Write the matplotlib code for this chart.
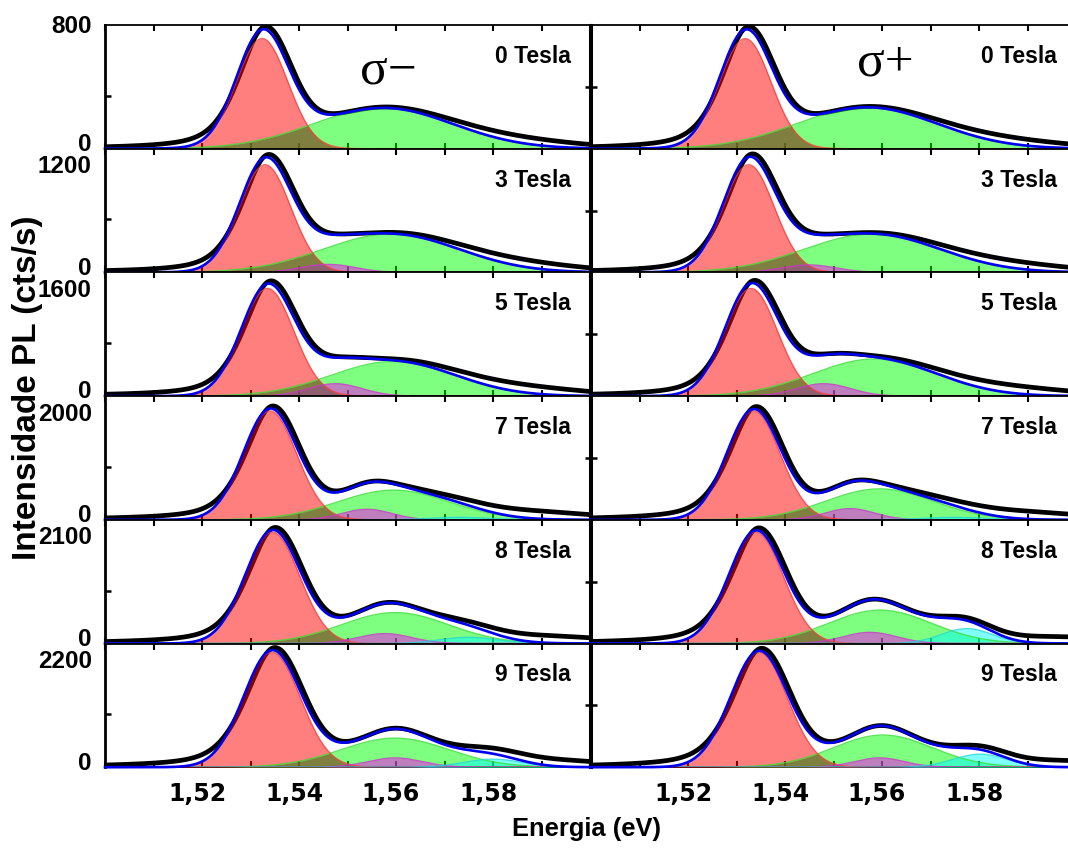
import numpy as np
import matplotlib
matplotlib.use("Agg")
import matplotlib.pyplot as plt
from matplotlib.ticker import FixedLocator, MultipleLocator
from matplotlib.transforms import ScaledTranslation

# ---------------------------------------------------------------- data
FIELDS_T = [0, 3, 5, 7, 8, 9]
Y_TOP_LABELS = [800, 1200, 1600, 2000, 2100, 2200]
YMAX_MINUS = [939, 1403, 1871, 2339, 2456, 2573]
YMAX_PLUS = [800, 1200, 1600, 2000, 2100, 2200]
XTICKS = [1.52, 1.54, 1.56, 1.58]
XTICKLABELS_MINUS = ["1,52", "1,54", "1,56", "1,58"]
XTICKLABELS_PLUS = ["1,52", "1,54", "1,56", "1.58"]

# Gaussian fit components: centre (eV), FWHM (eV), height (cts/s)
# sigma-minus
RED_C_M = [1.5324, 1.5330, 1.5335, 1.5340, 1.5345, 1.5344]
RED_H_M = [836, 1221, 1628, 2058, 2210, 2393]
GRN_C_M = [1.5573, 1.5590, 1.5595, 1.5595, 1.5598, 1.5598]
GRN_W_M = [0.034, 0.033, 0.030, 0.027, 0.026, 0.026]
GRN_H_M = [310, 435, 524, 561, 614, 605]
MAG_C_M = [1.545, 1.546, 1.5475, 1.554, 1.5577, 1.5598]
MAG_W_M = [0.013, 0.013, 0.013, 0.012, 0.013, 0.013]
MAG_H_M = [0, 91, 187, 199, 196, 193]
CYN_C_M = [1.575, 1.575, 1.575, 1.573, 1.575, 1.580]
CYN_W_M = [0.014, 0.014, 0.014, 0.015, 0.014, 0.014]
CYN_H_M = [0, 0, 0, 47, 123, 167]
# measured high-energy shoulder not covered by the fit
TAIL_C_M = [1.585, 1.585, 1.585, 1.587, 1.590, 1.590]
TAIL_H_M = [52, 84, 122, 152, 147, 154]

# sigma-plus
RED_C_P = [1.5318, 1.5325, 1.5330, 1.5335, 1.5340, 1.5346]
RED_H_P = [712, 1044, 1392, 1760, 1890, 2046]
GRN_C_P = [1.5569, 1.5580, 1.5585, 1.5595, 1.5596, 1.5602]
GRN_W_P = [0.034, 0.033, 0.030, 0.026, 0.025, 0.024]
GRN_H_P = [268, 372, 480, 500, 567, 572]
MAG_C_P = [1.545, 1.545, 1.548, 1.5534, 1.5575, 1.5595]
MAG_W_P = [0.013, 0.013, 0.013, 0.012, 0.013, 0.012]
MAG_H_P = [0, 72, 160, 180, 189, 165]
CYN_C_P = [1.575, 1.575, 1.575, 1.575, 1.5775, 1.5802]
CYN_W_P = [0.015, 0.015, 0.015, 0.015, 0.0124, 0.013]
CYN_H_P = [0, 0, 0, 40, 252, 231]
TAIL_C_P = [1.585, 1.585, 1.585, 1.587, 1.595, 1.595]
TAIL_H_P = [44, 72, 104, 130, 116, 121]

RED_W = [0.0125, 0.0125, 0.0128, 0.0130, 0.0133, 0.0138]

# measured exciton line: slight offset/gain against the fit and a
# Lorentzian low-energy wing
WING_ETA = 0.5
DATA_SHIFT = 0.0005
DATA_GAIN = 1.02
TAIL_W = 0.032

E = np.linspace(1.50, 1.60, 900)


def gauss(x, c, w, h):
    s = w / 2.3548
    return h * np.exp(-0.5 * ((x - c) / s) ** 2)


def lorentz(x, c, w, h):
    return h / (1.0 + ((x - c) / (w / 2.0)) ** 2)


# ---------------------------------------------------------------- layout
W_PX, H_PX = 1068, 848
fig = plt.figure(figsize=(W_PX / 100, H_PX / 100), dpi=100)
TOP_PX = 25
ROW_PX = 123.7
AX_W_PX = 485
LEFT_PX = [105, 591]
TOP_LABEL_FRAC = [0.985, 0.855, 0.855, 0.855, 0.855, 0.855]

SANS_B = dict(family=["Liberation Sans", "DejaVu Sans"], weight="bold")

RED_FACE, GRN_FACE, MAG_FACE, CYN_FACE = "#ff0000", "#00ff00", "#ff00ff", "#00ffff"

for col in range(2):
    if col == 0:
        rc, rh = RED_C_M, RED_H_M
        gc, gw, gh = GRN_C_M, GRN_W_M, GRN_H_M
        mc, mw, mh = MAG_C_M, MAG_W_M, MAG_H_M
        cc, cw, ch = CYN_C_M, CYN_W_M, CYN_H_M
        tc, th, ymaxs, xtl = TAIL_C_M, TAIL_H_M, YMAX_MINUS, XTICKLABELS_MINUS
    else:
        rc, rh = RED_C_P, RED_H_P
        gc, gw, gh = GRN_C_P, GRN_W_P, GRN_H_P
        mc, mw, mh = MAG_C_P, MAG_W_P, MAG_H_P
        cc, cw, ch = CYN_C_P, CYN_W_P, CYN_H_P
        tc, th, ymaxs, xtl = TAIL_C_P, TAIL_H_P, YMAX_PLUS, XTICKLABELS_PLUS

    for i in range(6):
        bottom = 1 - (TOP_PX + (i + 1) * ROW_PX) / H_PX
        ax = fig.add_axes([LEFT_PX[col] / W_PX, bottom, AX_W_PX / W_PX, ROW_PX / H_PX])
        ax.set_xlim(1.50, 1.60)
        ax.set_ylim(0, ymaxs[i])
        ax.set_axisbelow(True)

        comps = [(gc[i], gw[i], gh[i], GRN_FACE, "#30e030"),
                 (rc[i], RED_W[i], rh[i], RED_FACE, "#ff3a3a"),
                 (mc[i], mw[i], mh[i], MAG_FACE, "#d030d0"),
                 (cc[i], cw[i], ch[i], CYN_FACE, "#20d8d8")]

        curves = []
        for c, w, h, face, edge in comps:
            curves.append(gauss(E, c, w, h) if h > 0 else None)
        fit = sum(g for g in curves if g is not None)

        # measured spectrum
        c_meas = rc[i] + DATA_SHIFT
        red_meas = gauss(E, c_meas, RED_W[i], rh[i] * DATA_GAIN)
        wing = np.where(E < c_meas,
                        WING_ETA * (lorentz(E, c_meas, RED_W[i], rh[i])
                                    - gauss(E, c_meas, RED_W[i], rh[i])), 0.0)
        meas = fit - curves[1] + red_meas + wing + gauss(E, tc[i], TAIL_W, th[i])

        ax.plot(E, meas, color="black", lw=3.4, zorder=2, solid_capstyle="round")

        for k, (c, w, h, face, edge) in enumerate(comps):
            g = curves[k]
            if g is None:
                continue
            ax.fill_between(E, 0, g, color=face, alpha=0.5, lw=0, zorder=3 + 0.1 * k)
            ax.plot(E, g, color=edge, lw=1.0, alpha=0.8, zorder=3.6)

        # red / green overlap darkened to olive
        ax.fill_between(E, 0, np.minimum(curves[0], curves[1]), color=(0.25, 0.5, 0.25),
                        alpha=0.5, lw=0, zorder=3.5)

        ax.plot(E, fit, color="#0000f0", lw=1.9, zorder=5, clip_on=False)

        # x axis
        ax.xaxis.set_major_locator(FixedLocator(XTICKS))
        ax.xaxis.set_minor_locator(MultipleLocator(0.01))
        ax.tick_params(axis="x", which="both", direction="in", top=True, bottom=True,
                       length=4.5, width=1.5, color="black")
        if i == 5:
            ax.set_xticklabels(xtl)
            ax.tick_params(axis="x", which="major", pad=11, labelsize=17)
            off = ScaledTranslation(-0.05, 0, fig.dpi_scale_trans)
            for lab in ax.get_xticklabels():
                lab.set_fontweight("bold")
                lab.set_family("DejaVu Sans")
                lab.set_transform(lab.get_transform() + off)
        else:
            ax.set_xticklabels([])

        # y axis
        if col == 0:
            ax.set_yticks([Y_TOP_LABELS[i] / 2] if i > 0 else [400])
            ax.tick_params(axis="y", direction="in", left=True, right=False,
                           length=4.5, width=1.8, labelleft=False)
            ax.annotate("0", xy=(0, 0), xycoords="axes fraction", xytext=(-9.5, 3.0),
                        textcoords="offset points", ha="right", va="center",
                        fontsize=17.5, **SANS_B)
            ax.annotate(str(Y_TOP_LABELS[i]), xy=(0, TOP_LABEL_FRAC[i]),
                        xycoords="axes fraction", xytext=(-9.5, 0),
                        textcoords="offset points", ha="right", va="center",
                        fontsize=17.5, annotation_clip=False, **SANS_B)
        else:
            ax.set_yticks([ymaxs[i] / 2])
            ax.tick_params(axis="y", direction="inout", left=True, right=False,
                           length=8, width=1.8, labelleft=False)

        for side in ("top", "bottom"):
            ax.spines[side].set_linewidth(1.3)
        ax.spines["left"].set_linewidth(2.0 if col == 0 else 2.2)
        ax.spines["right"].set_linewidth(2.2)
        if col == 1:
            ax.spines["right"].set_visible(False)

        ax.text(0.96, 0.693, f"{FIELDS_T[i]} Tesla", transform=ax.transAxes,
                ha="right", va="baseline", fontsize=16.5, zorder=6, **SANS_B)

# polarisation labels
SERIF = ["Liberation Serif", "DejaVu Serif"]
fig.text(388 / W_PX, 1 - 83 / H_PX, "σ−", family=SERIF, fontsize=37,
         ha="center", va="baseline")
fig.text(885 / W_PX, 1 - 75 / H_PX, "σ+", family=SERIF, fontsize=37,
         ha="center", va="baseline")

# axis titles
fig.text(587 / W_PX, 1 - 829 / H_PX, "Energia (eV)", ha="center", va="center",
         fontsize=18.4, **SANS_B)
fig.text(28 / W_PX, 1 - 388 / H_PX, "Intensidade PL (cts/s)", ha="center",
         va="center", rotation=90, fontsize=24, **SANS_B)

fig.savefig("out.png", dpi=100)
